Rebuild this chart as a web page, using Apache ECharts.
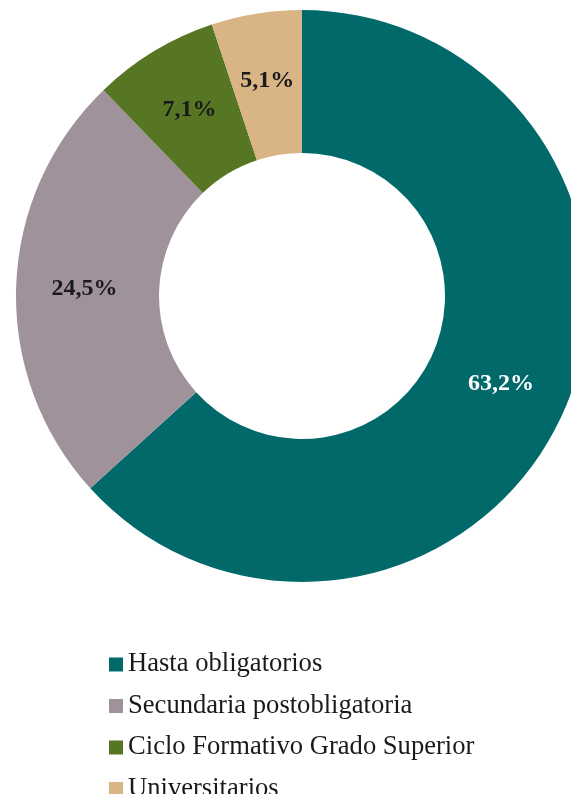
<!DOCTYPE html>
<html>
<head>
<meta charset="utf-8">
<script src="https://cdn.jsdelivr.net/npm/echarts@6/dist/echarts.min.js"></script>
<style>
  html, body { margin: 0; padding: 0; background: #fff; }
  #chart { width: 571px; height: 794px; }
</style>
</head>
<body>
<div id="chart"></div>
<script>
var categories = ['Hasta obligatorios', 'Secundaria postobligatoria', 'Ciclo Formativo Grado Superior', 'Universitarios'];
var values = [63.2, 24.5, 7.1, 5.1];
var colors = ['#02696a', '#a0929a', '#577624', '#d9b485'];
var labelColors = ['#ffffff', '#1a1a1a', '#1a1a1a', '#1a1a1a'];

var serif = "'Liberation Serif', 'Times New Roman', serif";
var chart = echarts.init(document.getElementById('chart'));

var option = {
    animation: false,
    color: colors,
    legend: {
        orient: 'vertical',
        left: 104,
        top: 646,
        height: 170,
        itemWidth: 14,
        itemHeight: 14,
        itemGap: 14.5,
        icon: 'rect',
        data: categories,
        textStyle: {
            fontFamily: serif,
            fontSize: 26.6,
            lineHeight: 26,
            color: '#1a1a1a'
        }
    },
    series: [
        {
            type: 'pie',
            center: [302, 296],
            radius: [143, 286],
            startAngle: 90,
            clockwise: true,
            label: {
                show: true,
                position: 'inside',
                fontFamily: serif,
                fontWeight: 'bold',
                fontSize: 24,
                formatter: function (p) {
                    return p.value.toFixed(1).replace('.', ',') + '%';
                }
            },
            labelLine: { show: false },
            data: categories.map(function (name, i) {
                return {
                    name: name,
                    value: values[i],
                    label: { color: labelColors[i] }
                };
            })
        }
    ]
};

chart.setOption(option);
</script>
</body>
</html>
